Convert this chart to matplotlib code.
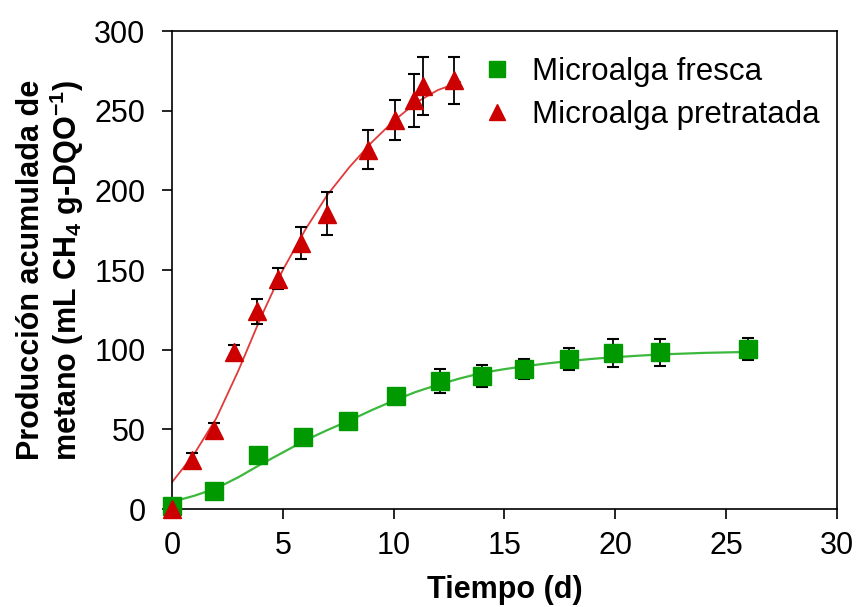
import matplotlib

matplotlib.use("Agg")

import matplotlib.pyplot as plt
from matplotlib.lines import Line2D

# Microalga fresca (measured)
fresh_days = [0, 1.9, 3.9, 5.9, 7.95, 10.1, 12.1, 14.0, 15.9, 17.9, 19.9, 22.0, 26.0]
fresh_values = [2, 11.6, 34, 45, 55, 71, 80.5, 83.7, 88, 94.3, 98, 98.5, 100.6]
fresh_errors = [0, 0, 0, 0, 0, 0, 7.5, 7, 6.3, 7, 9, 8.5, 7]

# Microalga pretratada (measured)
treated_days = [0, 0.92, 1.91, 2.8, 3.82, 4.8, 5.8, 6.98, 8.86, 10.06, 10.9, 11.34, 12.72]
treated_values = [0, 30.6, 49.5, 98.4, 124, 144.5, 167, 185.4, 225.6, 244, 256.5, 265.5, 269]
treated_errors = [0, 4.5, 4.5, 4.6, 8, 6.5, 10, 13.3, 12, 12.5, 16.5, 18.5, 15]

# fitted curves
fresh_fit_days = [0, 1, 2, 3, 4, 5, 6, 7, 8, 9, 10, 11, 12, 13, 14, 15, 16, 17, 18, 19, 20, 21, 22, 23, 24, 25, 26]
fresh_fit_values = [4.5, 8.3, 13, 20, 28, 35.5, 43, 49.5, 55.5, 62, 68, 73.5, 78, 82, 85.5, 87.8, 89.8, 91.5, 93, 94.3, 95.3, 96.2, 97, 97.5, 98, 98.3, 98.6]

treated_fit_days = [0, 1, 2, 3, 4, 5, 6, 7, 8, 9, 10, 11, 12, 13]
treated_fit_values = [16.8, 34.5, 57, 87, 120, 150, 175, 197, 214.5, 230, 243.5, 255, 263, 268]

x_ticks = [0, 5, 10, 15, 20, 25, 30]
y_ticks = [0, 50, 100, 150, 200, 250, 300]

GREEN = "#009900"
GREEN_LINE = "#3cb83c"
RED = "#cc0000"
RED_LINE = "#e03a3a"

plt.rcParams["font.family"] = ["Liberation Sans", "DejaVu Sans"]
plt.rcParams["mathtext.fontset"] = "custom"
plt.rcParams["mathtext.rm"] = "Liberation Sans:bold"
plt.rcParams["mathtext.bf"] = "Liberation Sans:bold"
plt.rcParams["mathtext.default"] = "bf"

figure = plt.figure(figsize=(8.59, 6.07), dpi=100)
axis = figure.add_axes([0.2002, 0.1614, 0.7742, 0.7875])

axis.plot(fresh_fit_days, fresh_fit_values, color=GREEN_LINE, linewidth=1.6, zorder=2)
axis.plot(treated_fit_days, treated_fit_values, color=RED_LINE, linewidth=1.3, zorder=2)

axis.errorbar(
    fresh_days,
    fresh_values,
    yerr=fresh_errors,
    fmt="none",
    ecolor="black",
    elinewidth=1.3,
    capsize=4.3,
    capthick=1.5,
    zorder=3,
)
axis.errorbar(
    treated_days,
    treated_values,
    yerr=treated_errors,
    fmt="none",
    ecolor="black",
    elinewidth=1.3,
    capsize=4.3,
    capthick=1.5,
    zorder=3,
)

axis.plot(
    fresh_days,
    fresh_values,
    linestyle="none",
    marker="s",
    markersize=13,
    color=GREEN,
    markeredgecolor=GREEN,
    zorder=4,
    clip_on=False,
)
axis.plot(
    treated_days,
    treated_values,
    linestyle="none",
    marker="^",
    markersize=12.5,
    color=RED,
    markeredgecolor=RED,
    zorder=5,
    clip_on=False,
)

handles = [
    Line2D([], [], linestyle="none", marker="s", markersize=11,
           color=GREEN, label="Microalga fresca"),
    Line2D([], [], linestyle="none", marker="^", markersize=11,
           color=RED, label="Microalga pretratada"),
]
axis.legend(
    handles=handles,
    loc="upper left",
    bbox_to_anchor=(0.433, 0.992),
    frameon=False,
    fontsize=22.5,
    handlelength=1.0,
    handletextpad=0.6,
    labelspacing=0.42,
    borderaxespad=0.3,
)

axis.set_xlim(0, 30)
axis.set_ylim(0, 300)
axis.set_xticks(x_ticks)
axis.set_yticks(y_ticks)
axis.tick_params(
    direction="out",
    length=7,
    width=1.2,
    labelsize=22,
    colors="black",
)
axis.tick_params(axis="x", pad=9)
axis.tick_params(axis="y", pad=12)
for spine in axis.spines.values():
    spine.set_linewidth(1.2)

axis.set_xlabel("Tiempo (d)", fontsize=22, fontweight="bold", labelpad=10)
axis.set_ylabel(
    "Producción acumulada de\nmetano (mL CH$_4$ g-DQO$^{-1}$)",
    fontsize=22,
    fontweight="bold",
    linespacing=1.05,
)
axis.yaxis.set_label_coords(-0.129, 0.5)

figure.savefig("out.png", dpi=100)
